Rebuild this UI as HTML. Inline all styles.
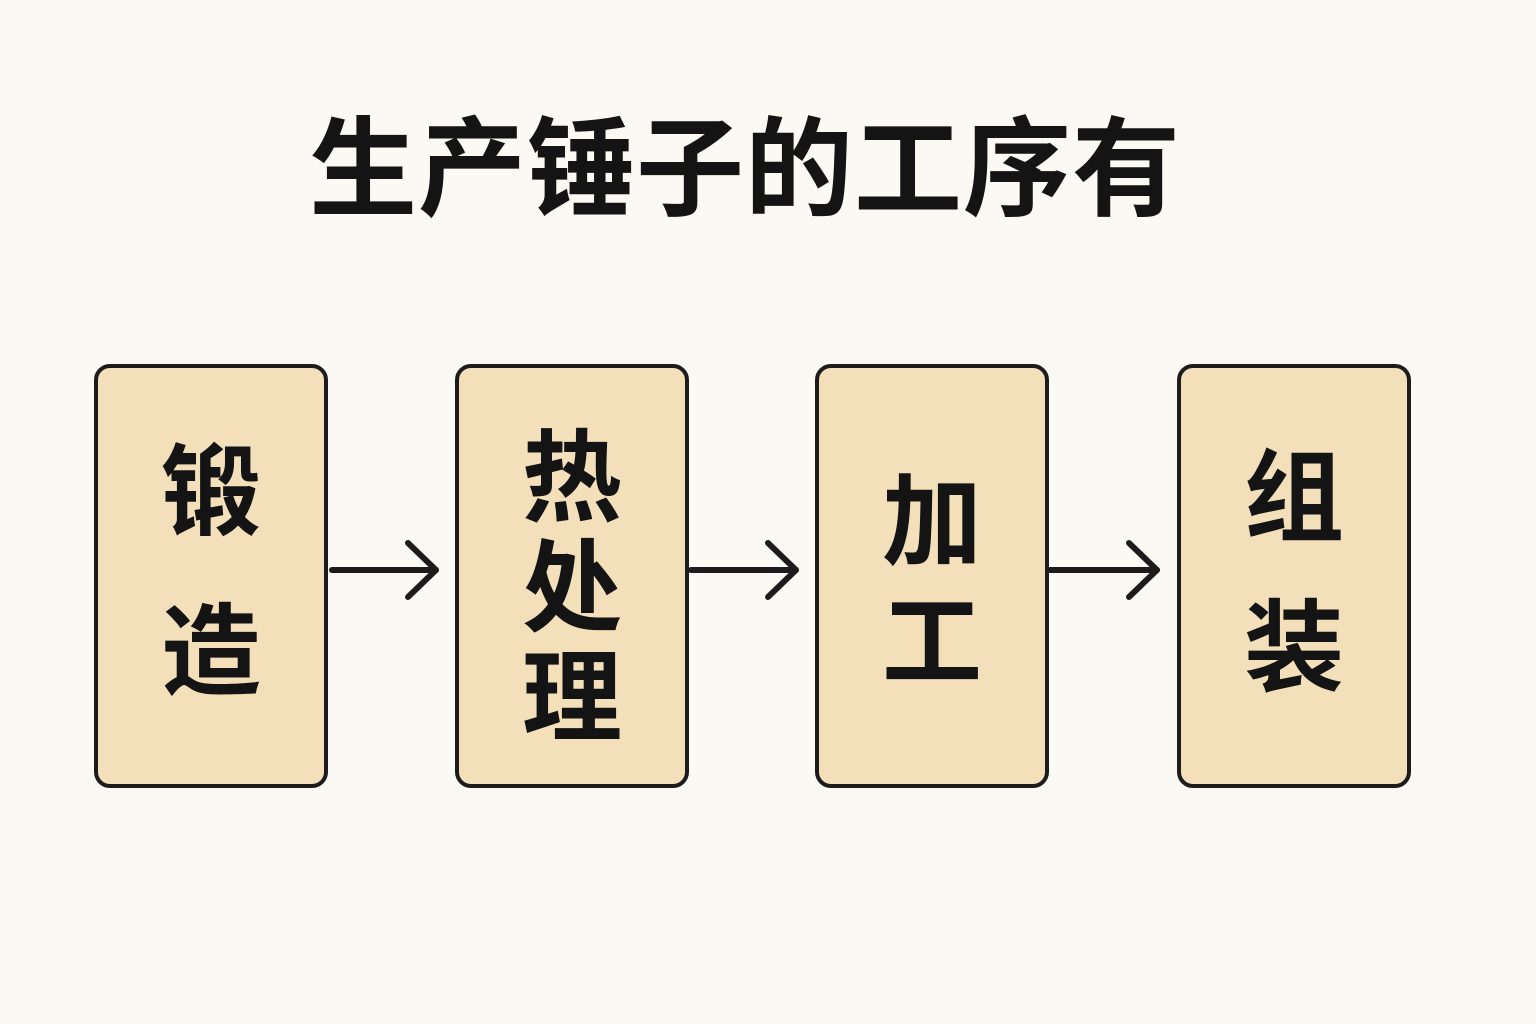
<!DOCTYPE html>
<html><head><meta charset="utf-8"><style>
html,body{margin:0;padding:0}
body{width:1536px;height:1024px;background:#fbf9f4;position:relative;overflow:hidden;font-family:"Liberation Sans","Noto Sans CJK SC",sans-serif;color:#141414}
.t{position:absolute;left:300px;top:105px;width:890px;text-align:center;font-size:108px;font-weight:bold;letter-spacing:1px;line-height:130px;white-space:nowrap}
.b{position:absolute;top:364px;height:416px;width:226px;background:#f3e0bb;border:4px solid #1c1c1c;border-radius:16px;box-sizing:content-box}
.c{position:absolute;left:0;width:100%;text-align:center;font-size:100px;font-weight:bold;line-height:110px}
svg{position:absolute;left:0;top:0}
</style></head><body>
<div class="t">生产锤子的工序有</div>
<div class="b" style="left:94px"><div class="c" style="top:70px">锻</div><div class="c" style="top:230px">造</div></div>
<div class="b" style="left:455px"><div class="c" style="top:56px">热</div><div class="c" style="top:166px">处</div><div class="c" style="top:276px">理</div></div>
<div class="b" style="left:815px"><div class="c" style="top:100px">加</div><div class="c" style="top:220px">工</div></div>
<div class="b" style="left:1177px"><div class="c" style="top:76px">组</div><div class="c" style="top:226px">装</div></div>
<svg width="1536" height="1024">
<g stroke="#1c1c1c" stroke-width="6" fill="none" stroke-linecap="round" stroke-linejoin="round">
<line x1="332" y1="570" x2="436" y2="570"/><polyline points="408,543 436,570 408,597"/>
<line x1="691" y1="570" x2="796" y2="570"/><polyline points="768,543 796,570 768,597"/>
<line x1="1050" y1="570" x2="1157" y2="570"/><polyline points="1129,543 1157,570 1129,597"/>
</g></svg>
</body></html>
